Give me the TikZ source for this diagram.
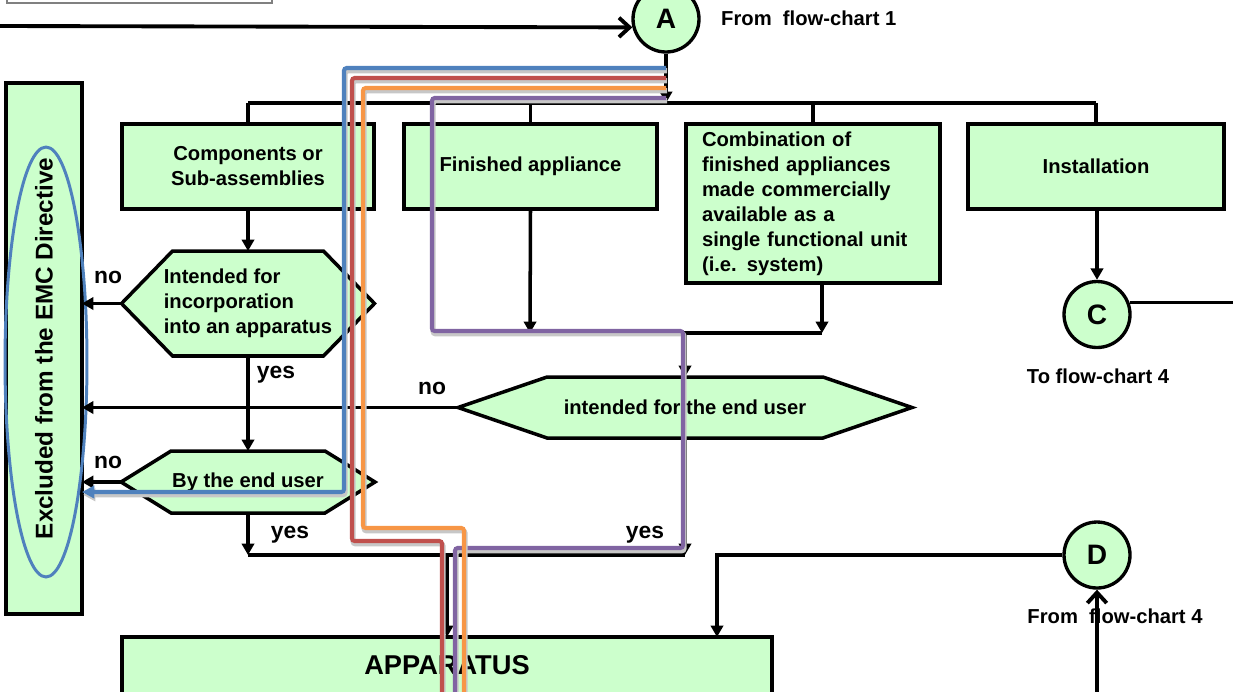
\documentclass[tikz,border=0pt]{standalone}
\usepackage{fontspec}
\setmainfont{Liberation Sans}
\usetikzlibrary{arrows.meta,calc,backgrounds,shapes.geometric}

\definecolor{boxgreen}{RGB}{204,255,204}
\definecolor{RouteBlue}{RGB}{79,129,189}
\definecolor{RouteRed}{RGB}{192,80,77}
\definecolor{RouteOrange}{RGB}{247,150,70}
\definecolor{RoutePurple}{RGB}{128,100,162}

% outline of a decision node: #1 node, #2 length of the slanted ends
\newcommand{\hexframe}[2]{%
  \draw[hexline] (#1.west) -- ($(#1.north west)+(#2,0)$) -- ($(#1.north east)-(#2,0)$)
    -- (#1.east) -- ($(#1.south east)-(#2,0)$) -- ($(#1.south west)+(#2,0)$) -- cycle;}

\begin{document}
\begin{tikzpicture}[x=0.02cm, y=-0.02cm,
    every node/.style={font=\bfseries\fontsize{11.5}{14.2}\selectfont},
    box/.style={draw, fill=boxgreen, line width=2.1pt, inner sep=0pt, outer sep=0pt, align=center},
    hexnode/.style={inner sep=0pt, outer sep=0pt, align=left},
    hexline/.style={draw, fill=boxgreen, line width=2pt},
    conn/.style={line width=2pt},
    arr/.style={conn, -{Triangle[length=6.5pt,width=7pt]}},
    barb/.style={line width=2.2pt, -{Straight Barb[length=6pt,width=11pt]}},
    link/.style={circle, draw, fill=boxgreen, line width=1.9pt, minimum size=1.32cm, inner sep=0pt,
      font=\bfseries\fontsize{16}{19}\selectfont},
    lbl/.style={font=\bfseries\fontsize{13}{15}\selectfont},
    route/.style={line width=2.3pt, rounded corners=1.5pt,
      preaction={draw=black!22, line width=3pt, transform canvas={shift={(0.6pt,-1.6pt)}}}}]
  \useasboundingbox (0,0) rectangle (1233,691);
  \clip (0,0) rectangle (1233,691);

  \node[draw=gray, line width=1.2pt, minimum width=5.3cm, minimum height=1cm, anchor=south west] (Top) at (6,4) {};

  % entry
  \node[link] (A) at (666,19) {A};
  \node[anchor=west] (FromA) at (715,18) {From~~flow-chart 1};

  % product types
  \node[box, minimum width=5.04cm, minimum height=1.7cm] (Comp) at (248,166.5) {Components or\\Sub-assemblies};
  \node[box, minimum width=5.06cm, minimum height=1.7cm] (Fin) at (530.5,166.5) {Finished appliance};
  \node[box, minimum width=5.08cm, minimum height=3.18cm, text width=4.44cm, align=left] (Comb) at (813,203.5)
    {Combination of\\finished appliances\\made commercially\\available as a\\single functional unit\\(i.e. system)};
  \node[box, minimum width=5.12cm, minimum height=1.7cm] (Inst) at (1096,166.5) {Installation};

  % excluded
  \node[box, minimum width=1.52cm, minimum height=10.62cm] (Excl) at (44,348.5) {};
  \node[rotate=90, font=\bfseries\fontsize{13.8}{16}\selectfont] (ExclText) at (Excl.center) {Excluded from the EMC Directive};
  \node[ellipse, draw=RouteBlue, line width=1.7pt, minimum width=1.64cm, minimum height=8.6cm, inner sep=0pt] (Ring) at (46,362) {};

  % decisions
  \node[hexnode, minimum width=5.06cm, minimum height=2.1cm] (Incorp) at (248,303.5) {Intended for\\incorporation\\into an apparatus};
  \node[hexnode, minimum width=5.08cm, minimum height=1.24cm] (ByUser) at (248,482) {By the end user};
  \node[hexnode, minimum width=9.08cm, minimum height=1.22cm] (ForUser) at (685,407.5) {intended for the end user};
  \begin{scope}[on background layer]
    \hexframe{Incorp}{51}
    \hexframe{ByUser}{50}
    \hexframe{ForUser}{89}
  \end{scope}

  \node[box, minimum width=13cm, minimum height=1.14cm, font=\bfseries\fontsize{15.5}{18}\selectfont] (App) at (447,665.5) {APPARATUS};

  % other flow-charts
  \node[link] (C) at (1097,314.5) {C};
  \node (ToC) at (1098,376) {To flow-chart 4};
  \node[link] (D) at (1097,555) {D};
  \node (FromD) at (1115,616) {From~~flow-chart 4};

  % labels
  \node[lbl] (No1) at (108,277) {no};
  \node[lbl] (No2) at (108,462) {no};
  \node[lbl] (No3) at (432,388) {no};
  \node[lbl] (Yes1) at (276,375) {yes};
  \node[lbl] (Yes2) at (290,535) {yes};
  \node[lbl] (Yes3) at (645,535) {yes};

  % connectors
  \coordinate (In) at (0,26);
  \coordinate (BusL) at (248,103);
  \coordinate (BusR) at (1096,103);
  \draw[barb] (In) -- (A.194);
  \draw[arr] (A.south) -- (A.south |- BusL);
  \draw[conn] (BusL) -- (BusR);
  \draw[conn] (BusL) -- (Comp.north);
  \draw[conn] (Fin.north |- BusL) -- (Fin.north);
  \draw[conn] (Comb.north |- BusL) -- (Comb.north);
  \draw[conn] (BusR) -- (Inst.north);

  \draw[arr] (Comp.south) -- (Incorp.north);
  \draw[arr] (Incorp.west) -- (Incorp.west -| Excl.east);
  \draw[arr] (Incorp.south) -- (ByUser.north);
  \draw[arr] (ByUser.west) -- (ByUser.west -| Excl.east);
  \draw[arr] (ForUser.west) -- (ForUser.west -| Excl.east);

  \coordinate (JoinL) at (530,333);
  \coordinate (JoinR) at (822,333);
  \draw[arr] (Fin.south) -- (JoinL);
  \draw[arr] (Comb.south -| JoinR) -- (JoinR);
  \draw[conn] (JoinL) -- (JoinR);
  \draw[arr] (ForUser.north |- JoinL) -- (ForUser.north);

  \coordinate (MergeL) at (248,555);
  \coordinate (MergeR) at (685,555);
  \coordinate (Drop) at (447,555);
  \draw[arr] (ByUser.south) -- (MergeL);
  \draw[arr] (ForUser.south) -- (MergeR);
  \draw[conn] (MergeL) -- (MergeR);
  \draw[arr] (Drop) -- (Drop |- App.north);

  \coordinate (OutC) at (1240,303);
  \coordinate (InD) at (1097,700);
  \coordinate (TurnD) at (717,555);
  \draw[arr] (C.north |- Inst.south) -- (C.north);
  \draw[conn] (C.20) -- (C.20 -| OutC);
  \draw[barb] (InD) -- (D.south);
  \draw[arr] (D.west) -- (TurnD) -- (TurnD |- App.north);

  % routes
  \draw[route, RoutePurple] (A.south |- 0,98) -- (432,98) -- (432,331) -- (683,331) -- (683,548) -- (455,548) -- (455,700);
  \draw[route, RouteBlue, -{Triangle[length=7pt,width=7pt]}] (A.south |- 0,68) -- (344,68) -- (344,492) -- (Excl.east |- 0,492);
  \draw[route, RouteRed] (A.south |- 0,78) -- (352,78) -- (352,541) -- (442,541) -- (442,700);
  \draw[route, RouteOrange] (A.south |- 0,88) -- (363,88) -- (363,528) -- (464,528) -- (464,700);
\end{tikzpicture}
\end{document}
